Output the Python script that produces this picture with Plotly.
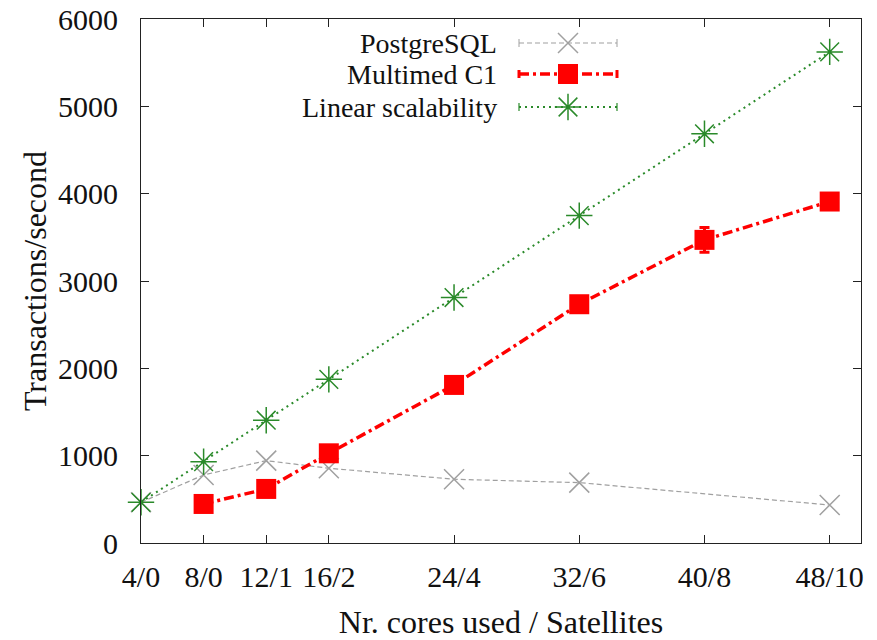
import plotly.graph_objects as go

# ---- data ----
tick_labels = ["4/0", "8/0", "12/1", "16/2", "24/4", "32/6", "40/8", "48/10"]
cores = [4, 8, 12, 16, 24, 32, 40, 48]

pg_cores = [4, 8, 12, 16, 24, 32, 48]
pg_tps = [466, 779, 943, 856, 730, 691, 435]

mm_cores = [8, 12, 16, 24, 32, 40, 48]
mm_tps = [447, 619, 1027, 1810, 2734, 3471, 3910]
mm_err = [0, 0, 0, 0, 0, 143, 0]

lin_cores = [4, 8, 12, 16, 24, 32, 40, 48]
lin_tps = [466, 931, 1406, 1874, 2811, 3749, 4686, 5623]

series_names = ["PostgreSQL", "Multimed C1", "Linear scalability"]

# ---- styles ----
FONT = "Liberation Serif, Times New Roman, serif"
GRAY = "#a0a0a0"
RED = "#ff0000"
GREEN = "#2a8a2a"

W, H = 877, 640
L, R, T, B = 141, 861, 19, 543

fig = go.Figure()

pg_style = dict(line=dict(color=GRAY, width=1.2, dash="5px,3px"),
                marker=dict(symbol="x-thin-open", size=20, color=GRAY,
                            line=dict(color=GRAY, width=1.5)))
mm_style = dict(line=dict(color=RED, width=3.5, dash="10px,4px,3px,4px"),
                marker=dict(symbol="square", size=20, color=RED,
                            line=dict(width=0)))
lin_style = dict(line=dict(color=GREEN, width=2, dash="2px,4px"),
                 marker=dict(symbol="asterisk-open", size=22, color=GREEN,
                             line=dict(color=GREEN, width=1.5)))

fig.add_trace(go.Scatter(x=pg_cores, y=pg_tps, mode="lines+markers",
                         name=series_names[0], cliponaxis=False, **pg_style))
fig.add_trace(go.Scatter(x=mm_cores, y=mm_tps, mode="lines+markers",
                         name=series_names[1], cliponaxis=False,
                         error_y=dict(type="data", array=mm_err, color=RED,
                                      thickness=3, width=5),
                         **mm_style))
fig.add_trace(go.Scatter(x=lin_cores, y=lin_tps, mode="lines+markers",
                         name=series_names[2], cliponaxis=False, **lin_style))

# ---- custom gnuplot-style legend (pixel coords overlay axis) ----
leg_rows = [43, 74, 107]
leg_x0, leg_x1, leg_xm, leg_text_x = 519, 617, 568, 499
styles = [pg_style, mm_style, lin_style]
cap_w = [1, 3, 1.2]
cap_col = [GRAY, RED, GREEN]
for name, yy, st, cw, cc in zip(series_names, leg_rows, styles, cap_w, cap_col):
    fig.add_trace(go.Scatter(x=[leg_x0, leg_x1], y=[yy, yy], mode="lines",
                             line=st["line"], xaxis="x2", yaxis="y2",
                             showlegend=False, hoverinfo="skip"))
    fig.add_trace(go.Scatter(x=[leg_xm], y=[yy], mode="markers",
                             marker=st["marker"], xaxis="x2", yaxis="y2",
                             showlegend=False, hoverinfo="skip"))
    for xx in (leg_x0, leg_x1):
        fig.add_shape(type="line", xref="x2", yref="y2", x0=xx, x1=xx,
                      y0=yy - 4, y1=yy + 4, line=dict(color=cc, width=cw))
    fig.add_annotation(x=leg_text_x, y=yy, xref="x2", yref="y2", text=name,
                       showarrow=False, xanchor="right", yanchor="middle",
                       font=dict(family=FONT, size=28, color="#111111"))

axis_common = dict(showline=True, linecolor="#222222", linewidth=1.2,
                   mirror="ticks", ticks="inside", ticklen=8,
                   tickcolor="#222222", showgrid=False, zeroline=False,
                   tickfont=dict(family=FONT, size=30, color="#111111"))

fig.update_layout(
    width=W, height=H,
    margin=dict(l=L, r=W - R, t=T, b=H - B, autoexpand=False),
    paper_bgcolor="white", plot_bgcolor="white",
    showlegend=False,
    xaxis=dict(range=[4, 50], tickvals=cores, ticktext=tick_labels,
               ticklabelstandoff=7,
               title=dict(text="Nr. cores used / Satellites",
                          font=dict(family=FONT, size=32, color="#111111"),
                          standoff=19),
               **axis_common),
    yaxis=dict(range=[0, 6000], dtick=1000, ticklabelstandoff=16,
               title=dict(text="Transactions/second",
                          font=dict(family=FONT, size=32, color="#111111"),
                          standoff=1),
               **axis_common),
    xaxis2=dict(range=[L, R], overlaying="x", visible=False),
    yaxis2=dict(range=[B, T], overlaying="y", visible=False),
)

fig.write_html("out.html", config={"displayModeBar": False},
               post_script="document.body.style.margin='0';"
                           "document.body.style.padding='0';")
